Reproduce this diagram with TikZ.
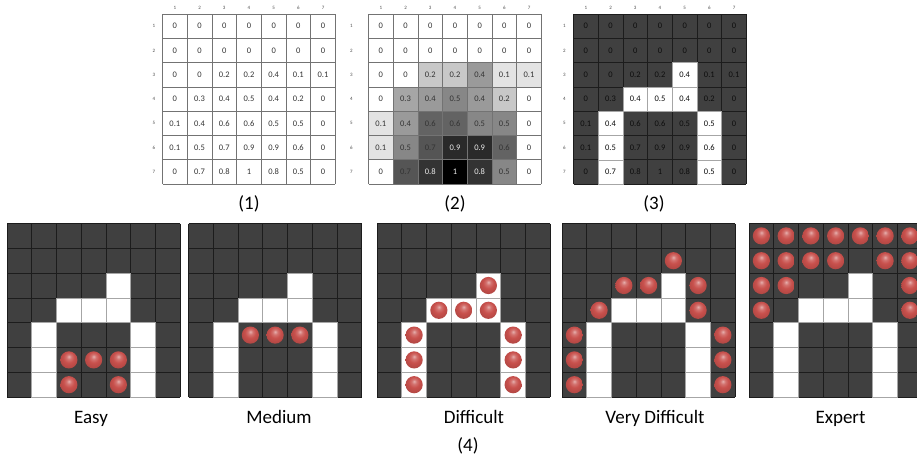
\documentclass[tikz,border=0pt]{standalone}
\usepackage{fontspec}
\setmainfont{Carlito}
\definecolor{dk}{HTML}{404040}
\definecolor{ln}{HTML}{1C1C1C}
\definecolor{ballc}{HTML}{C8504C}
\definecolor{c0}{HTML}{FFFFFF}
\definecolor{c1}{HTML}{E3E3E3}
\definecolor{c2}{HTML}{C8C8C8}
\definecolor{c3}{HTML}{A6A6A6}
\definecolor{c4}{HTML}{9A9A9A}
\definecolor{c5}{HTML}{878787}
\definecolor{c6}{HTML}{636363}
\definecolor{c7}{HTML}{555555}
\definecolor{c8}{HTML}{333333}
\definecolor{c9}{HTML}{2A2A2A}
\definecolor{c10}{HTML}{000000}
\pgfdeclareradialshading{redball}{\pgfpoint{0bp}{10bp}}{%
  color(0bp)=(ballc!45!white);
  color(7bp)=(ballc!80!white);
  color(16bp)=(ballc);
  color(30bp)=(ballc!88!black);
  color(36bp)=(ballc!62!black);
  color(60bp)=(ballc!62!black)}
\tikzset{
  cellnum/.style={font=\fontsize{8.5}{10}\selectfont, inner sep=0pt},
  idx/.style={font=\fontsize{5}{6}\selectfont, text=black!70, inner sep=0pt},
  lbl/.style={font=\fontsize{19}{22}\selectfont, anchor=base, inner sep=0pt},
  gl/.style={draw=black!55, line width=0.7pt},
  dl/.style={draw=ln, line width=0.7pt},
  wc/.style={fill=white, draw=black!35, line width=0.6pt},
  redballstyle/.style={shading=redball},
}
\def\gridvals{1/{0,0,0,0,0,0,0},2/{0,0,0,0,0,0,0},3/{0,0,0.2,0.2,0.4,0.1,0.1},4/{0,0.3,0.4,0.5,0.4,0.2,0},5/{0.1,0.4,0.6,0.6,0.5,0.5,0},6/{0.1,0.5,0.7,0.9,0.9,0.6,0},7/{0,0.7,0.8,1,0.8,0.5,0}}
\def\whites{3/5,4/3,4/4,4/5,5/2,6/2,7/2,5/6,6/6,7/6}
\def\W{24.7}
\def\H{24.3}
\def\BW{24.75}
\def\BH{24.8}
% grid lines: L T w h style
\newcommand\mylines[5]{%
  \foreach \i in {0,...,7}{%
    \draw[#5] ({#1+\i*#3},{#2}) -- ({#1+\i*#3},{#2+7*#4});
    \draw[#5] ({#1},{#2+\i*#4}) -- ({#1+7*#3},{#2+\i*#4});
  }}
% binary grid: L T w h
\newcommand\mybin[4]{%
  \fill[dk] ({#1},{#2}) rectangle ({#1+7*#3},{#2+7*#4});
  \mylines{#1}{#2}{#3}{#4}{dl}
  \foreach \r/\c in \whites{%
    \draw[wc] ({#1+(\c-1)*#3},{#2+(\r-1)*#4}) rectangle ({#1+\c*#3},{#2+\r*#4});
  }}
% balls: L T w h list
\newcommand\myballs[5]{%
  \foreach \r/\c in {#5}{%
    \shade[redballstyle] ({#1+(\c-0.5)*#3},{#2+(\r-0.5)*#4}) circle (8.6pt);
  }}
% indices: name L T w h rowoffset
\newcommand\myidx[6]{%
  \foreach \i in {1,...,7}{%
    \node[idx] (#1c\i) at ({#2+(\i-0.5)*#4},8) {\i};
    \node[idx] (#1r\i) at ({#2-#6},{#3+(\i-0.5)*#5}) {\i};
  }}
\begin{document}
\begin{tikzpicture}[x=1pt,y=-1pt]
\useasboundingbox (0,0) rectangle (917,466);
\clip (0,0) rectangle (917,466);
% ---------- grid (1)
\def\La{162.5}\def\Ta{14}
\foreach \r/\row in \gridvals{%
  \foreach \v [count=\c] in \row{%
    \node[cellnum, text=black!80] (a\r\c) at ({\La+(\c-0.5)*\W},{\Ta+(\r-0.5)*\H}) {\v};
  }}
\mylines{\La}{\Ta}{\W}{\H}{gl}
\myidx{a}{\La}{\Ta}{\W}{\H}{8.5}
% ---------- grid (2)
\def\Lb{368.5}\def\Tb{14}
\foreach \r/\row in \gridvals{%
  \foreach \v [count=\c] in \row{%
    \pgfmathtruncatemacro\k{round(\v*10)}
    \ifnum\k>7 \def\tc{black!8}\else\def\tc{black!80}\fi
    \fill[c\k] ({\Lb+(\c-1)*\W},{\Tb+(\r-1)*\H}) rectangle ({\Lb+\c*\W},{\Tb+\r*\H});
    \node[cellnum, text=\tc] (b\r\c) at ({\Lb+(\c-0.5)*\W},{\Tb+(\r-0.5)*\H}) {\v};
  }}
\mylines{\Lb}{\Tb}{\W}{\H}{gl}
\myidx{b}{\Lb}{\Tb}{\W}{\H}{17}
% ---------- grid (3)
\def\Lc{573.5}\def\Tc{14}
\mybin{\Lc}{\Tc}{\W}{\H}
\foreach \r/\row in \gridvals{%
  \foreach \v [count=\c] in \row{%
    \node[cellnum, text=black!95] (g\r\c) at ({\Lc+(\c-0.5)*\W},{\Tc+(\r-0.5)*\H}) {\v};
  }}
\myidx{g}{\Lc}{\Tc}{\W}{\H}{9}
% labels top
\node[lbl] (l1) at (249,209.4) {(1)};
\node[lbl] (l2) at (455,209.4) {(2)};
\node[lbl] (l3) at (654,209.4) {(3)};
% ---------- bottom grids
\def\Tb{223.5}
\mybin{7}{\Tb}{\BW}{\BH}
\myballs{7}{\Tb}{\BW}{\BH}{6/3,6/4,6/5,7/3,7/5}
\mybin{188.5}{\Tb}{\BW}{\BH}
\myballs{188.5}{\Tb}{\BW}{\BH}{5/3,5/4,5/5}
\mybin{377}{\Tb}{\BW}{\BH}
\myballs{377}{\Tb}{\BW}{\BH}{3/5,4/3,4/4,4/5,5/2,6/2,7/2,5/6,6/6,7/6}
\mybin{562}{\Tb}{\BW}{\BH}
\myballs{562}{\Tb}{\BW}{\BH}{2/5,3/3,3/4,3/6,4/2,4/6,5/1,6/1,7/1,5/7,6/7,7/7}
\mybin{749}{\Tb}{\BW}{\BH}
\myballs{749}{\Tb}{\BW}{\BH}{1/1,1/2,1/3,1/4,1/5,1/6,1/7,2/1,2/2,2/3,2/4,2/6,2/7,3/1,3/2,3/7,4/1,4/7}
% labels bottom
\node[lbl] (le) at (91,423.3) {Easy};
\node[lbl] (lm) at (279,423.3) {Medium};
\node[lbl] (ld) at (474,423.3) {Difficult};
\node[lbl] (lv) at (655,423.3) {Very Difficult};
\node[lbl] (lx) at (840.5,423.3) {Expert};
\node[lbl] (l4) at (468,451) {(4)};
\end{tikzpicture}
\end{document}
